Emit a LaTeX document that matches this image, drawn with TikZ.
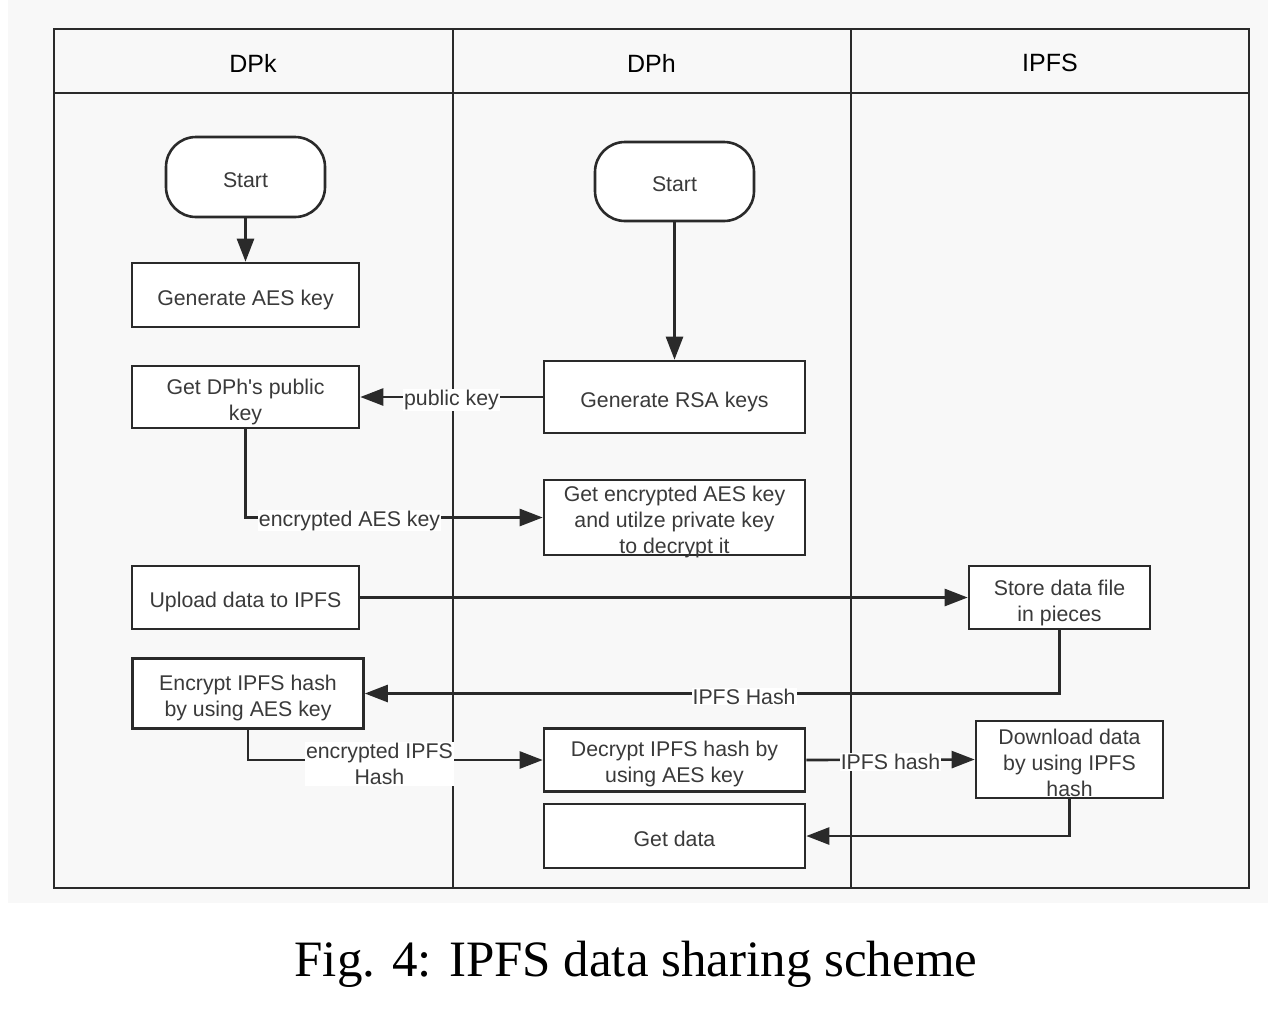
\documentclass[tikz,border=0pt]{standalone}
\usepackage{fontspec}
\setmainfont{Liberation Serif}
\newfontfamily\lanesans{Liberation Sans}
\usetikzlibrary{arrows.meta}
\definecolor{bgc}{HTML}{F8F8F8}
\definecolor{lc}{HTML}{2A2A2A}
\definecolor{tc}{HTML}{3A3A3A}
\tikzset{
  boxtext/.style={font=\lanesans\fontsize{21.3}{26}\selectfont, text=tc},
  tx/.style={inner sep=0pt, align=center, boxtext},
  box/.style={draw=lc, line width=2.6pt, fill=white, inner sep=0pt},
  startbox/.style={box, rounded corners=30pt},
  lbl/.style={fill=white, inner sep=1pt, align=center, boxtext},
  conn/.style={draw=lc, line width=2.6pt, -{Triangle[length=23pt,width=17pt]}},
  hdr/.style={font=\lanesans\fontsize{25}{30}\selectfont, text=black},
}
% #1 style, #2 name, #3 position, #4 width, #5 height, #6 text, #7 text drop
\newcommand{\flowbox}[7]{%
  \node[#1, minimum width=#4, minimum height=#5] (#2) at #3 {};
  \node[tx] (#2-t) at ([yshift=-#7]#2.center) {#6};}
\begin{document}
\begin{tikzpicture}[x=1pt,y=-1pt]
\useasboundingbox (0,0) rectangle (1276,1010);
\fill[bgc] (8,0) rectangle (1268,903);
% swimlanes
\draw[lc, line width=2.8pt] (54,29) rectangle (1249,888);
\draw[lc, line width=2.6pt] (54,93) -- (1249,93);
\draw[lc, line width=2.2pt] (453,29) -- (453,888);
\draw[lc, line width=2.2pt] (851,29) -- (851,888);
\node[hdr] (h1) at (253,63) {DPk};
\node[hdr] (h2) at (651.5,63) {DPh};
\node[hdr] (h3) at (1050,63) {IPFS};
% nodes
\flowbox{startbox}{s1}{(245.5,177)}{159pt}{80pt}{Start}{3pt}
\flowbox{box}{gaes}{(245.5,295)}{227pt}{64pt}{Generate AES key}{4.5pt}
\flowbox{startbox}{s2}{(674.5,181.5)}{159pt}{79pt}{Start}{3pt}
\flowbox{box}{pub}{(245.5,397)}{227pt}{62pt}{Get DPh's public\\key}{4.5pt}
\flowbox{box}{rsa}{(674.5,397)}{261pt}{72pt}{Generate RSA keys}{4.5pt}
\flowbox{box}{enc}{(674.5,517.5)}{261pt}{75pt}{Get encrypted AES key\\and utilze private key\\to decrypt it}{4.5pt}
\flowbox{box}{up}{(245.5,597.5)}{227pt}{63pt}{Upload data to IPFS}{4.5pt}
\flowbox{box}{store}{(1059.5,597.5)}{181pt}{63pt}{Store data file\\in pieces}{5pt}
\flowbox{box}{encr}{(248,693.5)}{231pt}{70pt}{Encrypt IPFS hash\\by using AES key}{4.5pt}
\flowbox{box}{dec}{(674.5,760)}{261pt}{63pt}{Decrypt IPFS hash by\\using AES key}{4pt}
\flowbox{box}{dl}{(1069.5,759.5)}{187pt}{77pt}{Download data\\by using IPFS\\hash}{3pt}
\flowbox{box}{gd}{(674.5,836)}{261pt}{64pt}{Get data}{2.5pt}
% connectors
\draw[conn] (s1.south) -- (gaes.north);
\draw[conn] (s2.south) -- (rsa.north);
\draw[conn] (rsa.west) -- node[lbl, yshift=-3pt] (l1) {public key} (pub.east);
\draw[conn] (pub.south) |- node[lbl, pos=0.675, yshift=-3pt] (l2) {encrypted AES key} (enc.west);
\draw[conn] (up.east) -- (store.west);
\draw[conn] (store.south) |- node[lbl, pos=0.727, yshift=-3pt] (l3) {IPFS Hash} (encr.east);
\draw[conn] (encr.south) |- node[lbl, pos=0.723, yshift=-4pt] (l4) {encrypted IPFS\\Hash} (dec.west);
\draw[conn] (dec.east) -- node[lbl, yshift=-2pt] (l5) {IPFS hash} (dl.west);
\draw[conn] (dl.south) |- (gd.east);
% caption
\node[anchor=base, font=\fontsize{51}{60}\selectfont] (cap) at (636,976) {Fig. 4: IPFS data sharing scheme};
\end{tikzpicture}
\end{document}
